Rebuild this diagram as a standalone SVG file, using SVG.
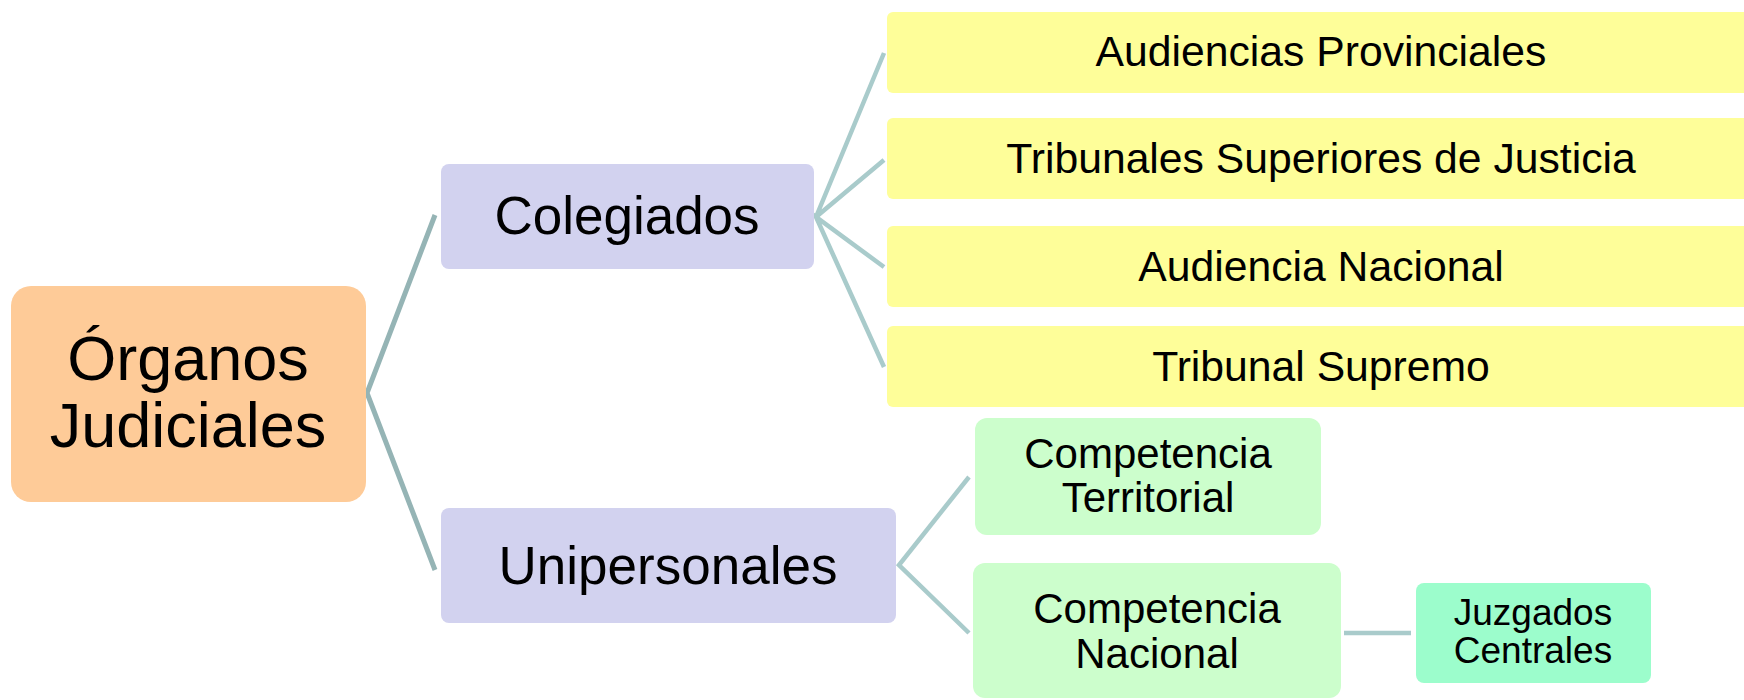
<svg xmlns="http://www.w3.org/2000/svg" width="1744" height="700" viewBox="0 0 1744 700">
<style>
text{font-family:"Liberation Sans",Arial,sans-serif;fill:#000;text-anchor:middle}
.root{fill:#FECB98}
.mid{fill:#D2D2EF}
.yel{fill:#FEFE99}
.grn{fill:#CCFECC}
.jz{fill:#9CFDCC}
.c1{stroke:#95B4B5;stroke-width:5;fill:none;stroke-linejoin:miter}
.c2{stroke:#A9CBCB;stroke-width:4.5;fill:none;stroke-linejoin:miter}
</style>
<rect width="1744" height="700" fill="#fff"/>
<g id="connectors">
<polyline class="c1" points="435,215 367,393 435,570"/>
<polyline class="c2" points="884,53 816,217 884,160"/>
<polyline class="c2" points="884,267 816,217 884,367"/>
<polyline class="c2" points="969,477 899,565 969,633"/>
<line class="c2" x1="1344" y1="633" x2="1411" y2="633" stroke-width="6"/>
</g>
<g id="organos">
<rect class="root" x="11" y="286" width="355" height="216" rx="20"/>
<text x="188" y="380" font-size="63">Órganos</text>
<text x="188" y="447" font-size="63">Judiciales</text>
</g>
<g id="colegiados">
<rect class="mid" x="441" y="164" width="373" height="105" rx="8"/>
<text x="627" y="234" font-size="53">Colegiados</text>
</g>
<g id="unipersonales">
<rect class="mid" x="441" y="508" width="455" height="115" rx="8"/>
<text x="668" y="584" font-size="53">Unipersonales</text>
</g>
<g id="audiencias-provinciales">
<rect class="yel" x="887" y="12" width="880" height="81" rx="6"/>
<text x="1321" y="66" font-size="42.7">Audiencias Provinciales</text>
</g>
<g id="tribunales-superiores">
<rect class="yel" x="887" y="118" width="880" height="81" rx="6"/>
<text x="1321" y="173" font-size="42.7">Tribunales Superiores de Justicia</text>
</g>
<g id="audiencia-nacional">
<rect class="yel" x="887" y="226" width="880" height="81" rx="6"/>
<text x="1321" y="281" font-size="42.7">Audiencia Nacional</text>
</g>
<g id="tribunal-supremo">
<rect class="yel" x="887" y="326" width="880" height="81" rx="6"/>
<text x="1321" y="381" font-size="42.7">Tribunal Supremo</text>
</g>
<g id="competencia-territorial">
<rect class="grn" x="975" y="418" width="346" height="117" rx="12"/>
<text x="1148" y="468" font-size="42">Competencia</text>
<text x="1148" y="512" font-size="42">Territorial</text>
</g>
<g id="competencia-nacional">
<rect class="grn" x="973" y="563" width="368" height="135" rx="12"/>
<text x="1157" y="623" font-size="42">Competencia</text>
<text x="1157" y="668" font-size="42">Nacional</text>
</g>
<g id="juzgados-centrales">
<rect class="jz" x="1416" y="583" width="235" height="100" rx="8"/>
<text x="1533" y="625" font-size="37">Juzgados</text>
<text x="1533" y="663" font-size="37">Centrales</text>
</g>
</svg>
